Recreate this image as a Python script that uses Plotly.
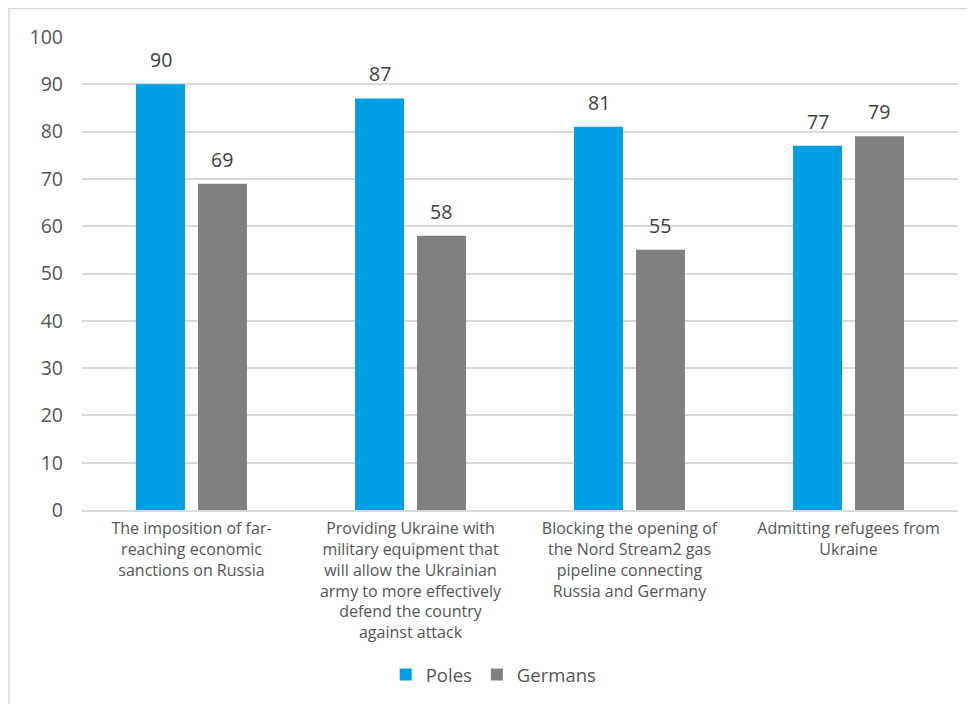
import plotly.graph_objects as go

categories = [
    "The imposition of far-<br>reaching economic<br>sanctions on Russia",
    "Providing Ukraine with<br>military equipment that<br>will allow the Ukrainian<br>army to more effectively<br>defend the country<br>against attack",
    "Blocking the opening of<br>the Nord Stream2 gas<br>pipeline connecting<br>Russia and Germany",
    "Admitting refugees from<br>Ukraine",
]
poles = [90, 87, 81, 77]
germans = [69, 58, 55, 79]
y_ticks = [0, 10, 20, 30, 40, 50, 60, 70, 80, 90, 100]

BLUE = "#009FE3"
GRAY = "#808080"
TXT = "#555555"
FONT = "Open Sans"

# page body has an 8px margin; compensate
OFF = 8
W, H = 975 - OFF, 704 - OFF
ML, MR, MT, MB = 82 - OFF, 17, 37 - OFF, 194
pw = W - ML - MR
ph = H - MT - MB

fig = go.Figure()
fig.add_trace(go.Bar(x=categories, y=poles, name="Poles", marker=dict(color=BLUE, line=dict(width=0))))
fig.add_trace(go.Bar(x=categories, y=germans, name="Germans", marker=dict(color=GRAY, line=dict(width=0))))

bargap = 0.434
slot = pw / len(categories) * (1 - bargap) / 2
for vals, sgn in ((poles, -1), (germans, 1)):
    for c, v in zip(categories, vals):
        fig.add_annotation(x=c, y=v, text=str(v), showarrow=False, xref="x", yref="y",
                           xshift=sgn * slot / 2, yshift=9, yanchor="bottom",
                           font=dict(family=FONT, size=19.5, color="#404040"))

# outer border (left and top edges visible)
fig.add_shape(type="rect", xref="paper", yref="paper",
              x0=(1 - ML) / pw, x1=(W + 20 - ML) / pw,
              y0=-(MB + 20) / ph, y1=1 + (MT - 0.5) / ph,
              line=dict(color="#D9D9D9", width=1.5), fillcolor="rgba(0,0,0,0)", layer="below")

fig.update_layout(
    width=W, height=H,
    margin=dict(l=ML, r=MR, t=MT, b=MB, autoexpand=False),
    paper_bgcolor="white", plot_bgcolor="white",
    barmode="group", bargap=bargap, bargroupgap=0.21,
    font=dict(family=FONT, color=TXT, size=16),
    showlegend=True,
    legend=dict(orientation="h", x=0.47, xanchor="center", y=-(675 - OFF - (H - MB)) / ph, yanchor="middle",
                font=dict(family=FONT, size=18.5, color=TXT), itemwidth=30, traceorder="normal"),
    xaxis=dict(showline=True, linecolor="#D9D9D9", linewidth=2, ticks="", showgrid=False,
               ticklabelstandoff=3,
               tickfont=dict(family=FONT, size=16, color=TXT), tickangle=0),
    yaxis=dict(range=[0, 100], tickvals=y_ticks, showgrid=True, gridcolor="#D9D9D9", gridwidth=1.5,
               zeroline=False, showline=False, ticks="", ticklabelstandoff=18,
               tickfont=dict(family=FONT, size=19.5, color=TXT)),
)

fig.write_html("out.html")
